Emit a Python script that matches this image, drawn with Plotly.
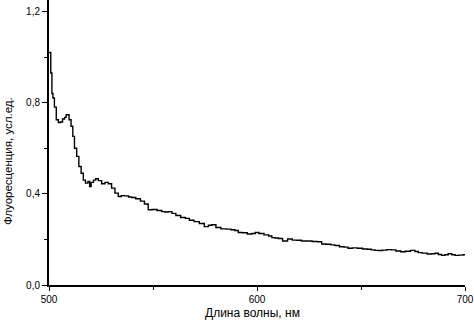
import plotly.graph_objects as go

wavelength = [500.0, 500.5, 501.2, 501.6, 502.2, 503.0, 504.0, 505.0, 506.0, 507.0, 508.0, 508.5, 509.3, 510.0,
              511.2, 511.7, 512.8, 513.8, 514.9, 516.0, 517.0, 518.1, 519.4, 519.7, 520.8, 522.0, 522.9,
              524.5, 526.1, 527.7, 529.3, 530.9, 532.5, 534.1, 535.5, 537.4, 539.0, 540.5, 542.9, 545.0,
              546.8, 548.6, 550.5, 553.4, 555.0, 556.6, 558.2, 560.0, 562.0, 564.6, 566.5, 568.5, 571.0,
              573.5, 575.8, 577.5, 579.0, 581.5, 583.8, 586.5, 588.5, 590.2, 591.8, 594.0, 596.6, 598.5,
              599.9, 602.0, 604.7, 606.5, 607.8, 609.5, 611.1, 613.5, 615.9, 618.0, 620.5, 622.3, 625.0,
              628.0, 630.3, 631.9, 634.5, 636.5, 638.3, 641.0, 642.8, 644.7, 647.0, 649.5, 652.0, 654.0,
              655.9, 657.5, 659.1, 661.5, 663.5, 665.5, 668.0, 670.3, 672.5, 675.1, 676.8, 678.3, 680.5,
              683.2, 684.8, 686.4, 688.0, 689.5, 691.0, 692.8, 694.5, 696.0, 698.0, 700.0]
intensity = [1.02, 1.02, 0.93, 0.84, 0.82, 0.78, 0.725, 0.713, 0.715, 0.728, 0.735, 0.747, 0.747, 0.725,
             0.696, 0.652, 0.60, 0.564, 0.52, 0.49, 0.46, 0.447, 0.454, 0.432, 0.45, 0.46, 0.466,
             0.458, 0.444, 0.45, 0.444, 0.425, 0.403, 0.388, 0.392, 0.391, 0.386, 0.384, 0.378, 0.368,
             0.355, 0.33, 0.331, 0.327, 0.322, 0.32, 0.322, 0.314, 0.305, 0.296, 0.292, 0.284, 0.278,
             0.27, 0.256, 0.262, 0.264, 0.252, 0.246, 0.245, 0.242, 0.239, 0.23, 0.229, 0.224, 0.226,
             0.23, 0.226, 0.22, 0.215, 0.208, 0.206, 0.204, 0.193, 0.202, 0.197, 0.196, 0.193, 0.193,
             0.191, 0.19, 0.18, 0.179, 0.176, 0.173, 0.168, 0.166, 0.161, 0.163, 0.161, 0.158, 0.157,
             0.154, 0.152, 0.151, 0.153, 0.155, 0.154, 0.149, 0.146, 0.148, 0.152, 0.147, 0.142, 0.14,
             0.136, 0.137, 0.139, 0.134, 0.13, 0.133, 0.137, 0.133, 0.13, 0.131, 0.133]

x_tick_vals = [500, 600, 700]
x_tick_text = ["500", "600", "700"]
y_tick_vals = [0.0, 0.4, 0.8, 1.2]
y_tick_text = ["0,0", "0,4", "0,8", "1,2"]
x_title = "Длина волны, нм"
y_title = "Флуоресценция, усл.ед."

fig = go.Figure()
fig.add_trace(go.Scatter(x=wavelength, y=intensity, mode="lines",
                         line=dict(color="black", width=1.4, shape="hvh"),
                         showlegend=False))

font = "Liberation Sans, Arial, sans-serif"
fig.update_layout(
    width=474, height=321,
    margin=dict(l=49, r=9, t=0, b=36, autoexpand=False),
    paper_bgcolor="white", plot_bgcolor="white",
    font=dict(family=font, color="black"),
)
fig.update_xaxes(range=[500, 700], showgrid=False, zeroline=False,
                 showline=True, linecolor="black", linewidth=1.5,
                 ticks="outside", ticklen=4, tickwidth=1.2, tickcolor="black",
                 tickvals=x_tick_vals, ticktext=x_tick_text,
                 tickfont=dict(size=10, family=font),
                 minor=dict(ticks="outside", ticklen=3, tickwidth=1, tickcolor="black", dtick=50, tick0=500, showgrid=False))
fig.update_yaxes(range=[0, 1.25], showgrid=False, zeroline=False,
                 showline=True, linecolor="black", linewidth=2,
                 ticks="outside", ticklen=5, tickwidth=1.2, tickcolor="black",
                 tickvals=y_tick_vals, ticktext=y_tick_text,
                 tickfont=dict(size=10, family=font),
                 minor=dict(ticks="outside", ticklen=3, tickwidth=1, tickcolor="black", dtick=0.2, tick0=0, showgrid=False))

fig.add_annotation(text=x_title, xref="paper", yref="paper", x=0.49, y=0.0, yshift=-20,
                   showarrow=False, xanchor="center", yanchor="top", borderpad=0,
                   font=dict(size=12, family=font, color="black"))
fig.add_annotation(text=y_title, xref="paper", yref="paper", x=0, xshift=-49, y=0.47, yshift=-10,
                   showarrow=False, xanchor="left", yanchor="middle", textangle=-90,
                   font=dict(size=11.5, family=font, color="black"))

fig.write_html("out.html", config={"displayModeBar": False},
               post_script="document.body.style.margin='0';document.body.style.overflow='hidden';")
